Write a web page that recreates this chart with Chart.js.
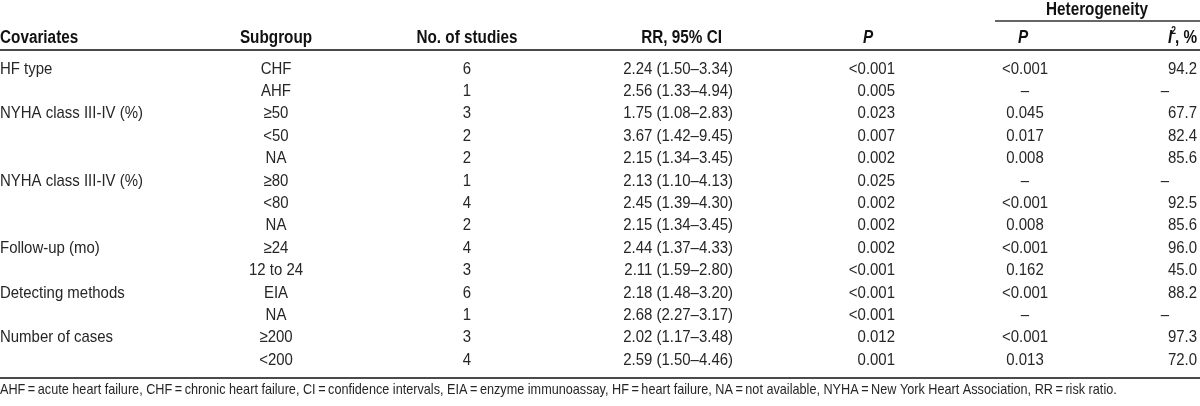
<!DOCTYPE html>
<html>
<head>
<meta charset="utf-8">
<script src="https://cdn.jsdelivr.net/npm/chart.js@4/dist/chart.umd.min.js"></script>
<style>
  html, body { margin: 0; padding: 0; background: #fff; }
  canvas { display: block; }
</style>
</head>
<body>
<canvas id="tableChart" width="1200" height="406"></canvas>
<script>
// table values, one array per column
const covariates = ['HF type', '', 'NYHA class III-IV (%)', '', '', 'NYHA class III-IV (%)', '', '',
  'Follow-up (mo)', '', 'Detecting methods', '', 'Number of cases', ''];
const subgroups = ['CHF', 'AHF', '≥50', '<50', 'NA', '≥80', '<80', 'NA', '≥24', '12 to 24', 'EIA', 'NA', '≥200', '<200'];
const studies = [6, 1, 3, 2, 2, 1, 4, 2, 4, 3, 6, 1, 3, 4];
const rr = [2.24, 2.56, 1.75, 3.67, 2.15, 2.13, 2.45, 2.15, 2.44, 2.11, 2.18, 2.68, 2.02, 2.59];
const ciLow = [1.50, 1.33, 1.08, 1.42, 1.34, 1.10, 1.39, 1.34, 1.37, 1.59, 1.48, 2.27, 1.17, 1.50];
const ciHigh = [3.34, 4.94, 2.83, 9.45, 3.45, 4.13, 4.30, 3.45, 4.33, 2.80, 3.20, 3.17, 3.48, 4.46];
const pValues = ['<0.001', '0.005', '0.023', '0.007', '0.002', '0.025', '0.002', '0.002', '0.002',
  '<0.001', '<0.001', '<0.001', '0.012', '0.001'];
const hetP = ['<0.001', '–', '0.045', '0.017', '0.008', '–', '<0.001', '0.008', '<0.001', '0.162',
  '<0.001', '–', '<0.001', '0.013'];
const iSquared = [94.2, null, 67.7, 82.4, 85.6, null, 92.5, 85.6, 96.0, 45.0, 88.2, null, 97.3, 72.0];

const headers = ['Covariates', 'Subgroup', 'No. of studies', 'RR, 95% CI', 'P', 'P', 'I2, %'];
const groupHeader = 'Heterogeneity';
const footnote = 'AHF\u2009=\u2009acute heart failure, CHF\u2009=\u2009chronic heart failure, CI\u2009=\u2009confidence intervals, ' +
  'EIA\u2009=\u2009enzyme immunoassay, HF\u2009=\u2009heart failure, NA\u2009=\u2009not available, ' +
  'NYHA\u2009=\u2009New York Heart Association, RR\u2009=\u2009risk ratio.';

// condensed look: Liberation Sans squeezed horizontally
const FONT = '"Liberation Sans", Arial, sans-serif';
const bodyFont = '17px ' + FONT;
const headFont = 'bold 18px ' + FONT;
const bodyColor = '#262626';
const headColor = '#111';
const bodySX = 0.88;
const headSX = 0.85;

// column anchors (x in px units of the x scale) and alignment
const colX = [0, 276, 467, 733, 895, 1025, 1197];
const colAlign = ['left', 'center', 'center', 'right', 'right', 'center', 'right'];
const headX = [0, 276, 467, 722, 868, 1023, 1197];
const headAlign = ['left', 'center', 'center', 'right', 'center', 'center', 'right'];

// vertical positions in row units
const HEADER_ROW = -1.40;
const GROUP_ROW = -2.63;
const GROUP_RULE = -2.14;
const HEAD_RULE = -0.85;
const BOTTOM_RULE = 13.78;
const FOOT_ROW = 14.34;

const rows = subgroups.map((_, i) => i);

const cellTexts = [
  covariates,
  subgroups,
  studies.map(String),
  rr.map((v, i) => v.toFixed(2) + ' (' + ciLow[i].toFixed(2) + '–' + ciHigh[i].toFixed(2) + ')'),
  pValues,
  hetP,
  iSquared.map(v => v === null ? '–' : v.toFixed(1))
];

const datasets = cellTexts.map((texts, c) => ({
  label: headers[c],
  data: rows.map(r => ({ x: colX[c], y: r })),
  texts: texts,
  align: colAlign[c],
  font: bodyFont,
  sx: bodySX,
  color: bodyColor,
  pointRadius: 0
}));

datasets.push({
  label: 'header',
  data: headX.map(x => ({ x: x, y: HEADER_ROW })),
  texts: headers,
  aligns: headAlign,
  font: headFont,
  sx: headSX,
  color: headColor,
  header: true,
  pointRadius: 0
});
datasets.push({
  label: 'group',
  data: [{ x: 1097, y: GROUP_ROW }],
  texts: [groupHeader],
  align: 'center',
  font: headFont,
  sx: headSX,
  color: headColor,
  pointRadius: 0
});
datasets.push({
  label: 'footnote',
  data: [{ x: 0, y: FOOT_ROW }],
  texts: [footnote],
  align: 'left',
  font: '14.4px ' + FONT,
  sx: bodySX,
  color: bodyColor,
  pointRadius: 0
});

function squeezed(ctx, text, x, y, sx) {
  ctx.save();
  ctx.translate(x, y);
  ctx.scale(sx, 1);
  ctx.fillText(text, 0, 0);
  ctx.restore();
}

const tablePlugin = {
  id: 'tablePlugin',
  beforeDatasetsDraw(chart) {
    const ctx = chart.ctx;
    const x = chart.scales.x, y = chart.scales.y;
    ctx.save();
    ctx.strokeStyle = '#4a4a4a';
    ctx.lineWidth = 2;
    [HEAD_RULE, BOTTOM_RULE].forEach(v => {
      const py = Math.round(y.getPixelForValue(v));
      ctx.beginPath();
      ctx.moveTo(x.getPixelForValue(0), py);
      ctx.lineTo(x.getPixelForValue(1200), py);
      ctx.stroke();
    });
    ctx.lineWidth = 1.5;
    ctx.strokeStyle = '#333';
    const gy = y.getPixelForValue(GROUP_RULE);
    ctx.beginPath();
    ctx.moveTo(x.getPixelForValue(995), gy);
    ctx.lineTo(x.getPixelForValue(1200), gy);
    ctx.stroke();
    ctx.restore();
  },
  afterDatasetsDraw(chart) {
    const ctx = chart.ctx;
    ctx.save();
    ctx.textBaseline = 'middle';
    chart.data.datasets.forEach((ds, di) => {
      const meta = chart.getDatasetMeta(di);
      const sx = ds.sx;
      ctx.fillStyle = ds.color;
      meta.data.forEach((pt, i) => {
        const t = ds.texts[i];
        if (!t) return;
        const align = ds.aligns ? ds.aligns[i] : ds.align;
        ctx.textAlign = align;
        ctx.font = ds.font;
        if (ds.header && t === 'P') {
          ctx.font = 'italic ' + ds.font;
          squeezed(ctx, t, pt.x, pt.y, sx);
        } else if (ds.header && t === 'I2, %') {
          // italic I, superscript 2, then ", %"
          ctx.textAlign = 'right';
          const tail = ', %';
          squeezed(ctx, tail, pt.x, pt.y, sx);
          let px = pt.x - ctx.measureText(tail).width * sx;
          ctx.font = 'bold 10px ' + FONT;
          squeezed(ctx, '2', px + 1, pt.y - 6, sx);
          px -= ctx.measureText('2').width * sx - 2;
          ctx.font = 'italic ' + ds.font;
          squeezed(ctx, 'I', px, pt.y, sx);
        } else if (t === '–' && align === 'right') {
          ctx.textAlign = 'center';
          squeezed(ctx, t, pt.x - 32, pt.y, sx);
        } else {
          squeezed(ctx, t, pt.x, pt.y, sx);
        }
      });
    });
    ctx.restore();
  }
};

new Chart('tableChart', {
  type: 'scatter',
  data: { datasets: datasets },
  options: {
    responsive: false,
    animation: false,
    events: [],
    layout: { padding: 0 },
    plugins: {
      legend: { display: false },
      tooltip: { enabled: false }
    },
    scales: {
      x: { type: 'linear', min: 0, max: 1200, display: false },
      y: { type: 'linear', min: -3.08, max: 15.05, reverse: true, display: false }
    }
  },
  plugins: [tablePlugin]
});
</script>
</body>
</html>
